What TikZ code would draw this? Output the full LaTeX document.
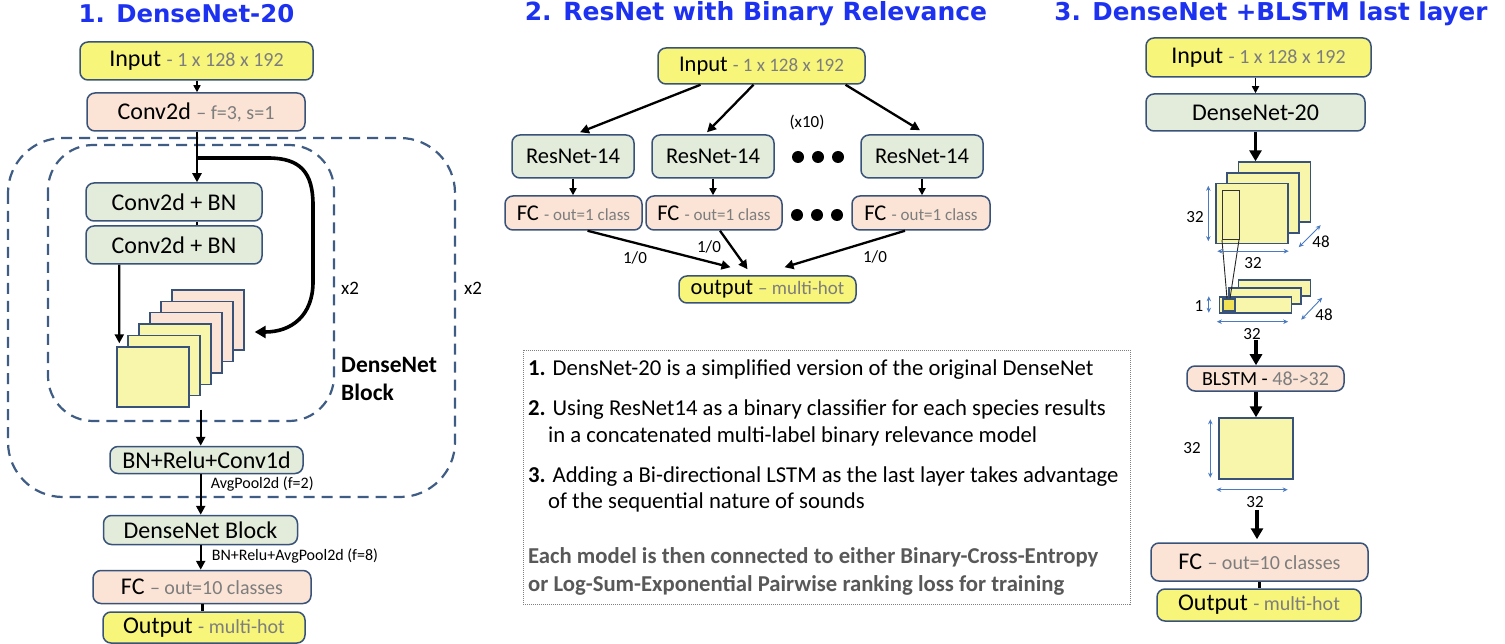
\documentclass[tikz,border=0pt]{standalone}
\usepackage{fontspec}
\setmainfont{Carlito}
\newfontfamily\headfont{DejaVu Sans}
\usetikzlibrary{arrows.meta,calc}

\definecolor{edge}{RGB}{56,82,122}
\definecolor{boxyellow}{RGB}{247,245,122}
\definecolor{sheetyellow}{RGB}{248,246,170}
\definecolor{cellyellow}{RGB}{240,226,84}
\definecolor{boxpeach}{RGB}{251,228,214}
\definecolor{boxgreen}{RGB}{227,235,218}
\definecolor{headblue}{RGB}{28,50,240}
\definecolor{subgray}{RGB}{125,125,125}
\definecolor{notegray}{RGB}{88,88,88}
\definecolor{dimblue}{RGB}{74,122,192}
\definecolor{dashblue}{RGB}{62,92,132}

% grey annotation inside a box: size, text
\newcommand{\gtx}[2]{{\color{subgray}\fontsize{#1}{#1}\selectfont #2}}
\newcommand{\pts}[1]{\fontsize{#1}{#1}\selectfont}

\tikzset{
  blk/.style={draw=edge, line width=1.5pt, rounded corners=8pt, inner sep=0pt, text=black},
  ylw/.style={blk, fill=boxyellow},
  pch/.style={blk, fill=boxpeach},
  grn/.style={blk, fill=boxgreen},
  sheet/.style={draw=edge, line width=1.4pt, inner sep=0pt, minimum width=72, minimum height=60},
  thinsheet/.style={draw=edge, line width=1.4pt, inner sep=0pt, minimum width=72, minimum height=16, fill=sheetyellow},
  arr/.style={draw=black, line width=2.3pt, -{Triangle[length=9pt,width=9pt]}},
  smallarr/.style={draw=black, line width=1.6pt, -{Triangle[length=7pt,width=7pt]}},
  bigarr/.style={draw=black, line width=3.2pt, -{Triangle[length=11pt,width=12pt]}},
  link/.style={draw=black, line width=3pt},
  dimarr/.style={draw=dimblue, line width=0.9pt, {Stealth[length=5pt,width=4.5pt]}-{Stealth[length=5pt,width=4.5pt]}},
  dashbox/.style={draw=dashblue, line width=2.2pt, dash pattern=on 11pt off 7pt},
  headline/.style={font=\headfont\bfseries\pts{24.4}, text=headblue, inner sep=0pt},
  lab/.style={inner sep=0pt, font=\pts{16}},
  dimlab/.style={inner sep=0pt, font=\pts{17}},
  note/.style={anchor=base west, inner sep=0pt, font=\pts{22.7}},
  dot/.style={circle, fill=black, inner sep=0pt, minimum size=12},
}

\begin{document}
\begin{tikzpicture}[x=1pt, y=-1pt]
\useasboundingbox (0,0) rectangle (1505,644);
\fill[white] (0,0) rectangle (1505,644);

% ---------------- titles ----------------
\node[headline] (t1) at (186.5,14) {1. DenseNet-20};
\node[headline, font=\headfont\bfseries\pts{25}] (t2) at (756,14) {2. ResNet with Binary Relevance};
\node[headline, font=\headfont\bfseries\pts{24.6}] (t3) at (1271,14) {3. DenseNet +BLSTM last layer};

% ================= 1. DenseNet-20 =================
\draw[dashbox, rounded corners=55pt] (8,138) rectangle (455,497);
\draw[dashbox, rounded corners=45pt] (48,145) rectangle (334,421);

\node[ylw, minimum width=233, minimum height=38, font=\pts{24}] (in1) at (196.5,61)
  {Input \gtx{20}{- 1 x 128 x 192}};
\node[pch, minimum width=218, minimum height=38, font=\pts{24}] (cv1) at (196,112)
  {Conv2d \gtx{20}{– f=3, s=1}};
\node[grn, minimum width=176, minimum height=38, font=\pts{24}] (cb1) at (174,202) {Conv2d + BN};
\node[grn, minimum width=176, minimum height=38, font=\pts{24}] (cb2) at (174,245) {Conv2d + BN};

% concatenated feature maps
\foreach \k/\c in {6/boxpeach,5/boxpeach,4/boxpeach,3/sheetyellow,2/sheetyellow,1/sheetyellow}
  \node[sheet, fill=\c] (sq\k) at ({153+11*(\k-1)},{377-11.4*(\k-1)}) {};

\node[grn, minimum width=193, minimum height=27, font=\pts{24}] (bnr) at (206.5,460) {BN+Relu+Conv1d};
\node[grn, minimum width=194, minimum height=29, font=\pts{24}] (dnb) at (200.5,530) {DenseNet Block};
\node[pch, minimum width=218, minimum height=33, font=\pts{24}] (fc1) at (202,587)
  {FC \gtx{20}{– out=10 classes}};
\node[ylw, minimum width=202, minimum height=31, font=\pts{24}] (out1) at (204,627.5)
  {Output \gtx{20}{- multi-hot}};

\node[inner sep=0pt, font=\pts{19}] (rep1) at (350,288) {x2};
\node[inner sep=0pt, font=\pts{19}] (rep2) at (473,288) {x2};
\node[anchor=west, align=left, inner sep=0pt, font=\bfseries\pts{23.5}] (blocklab) at (341,379)
  {DenseNet\\[4pt]Block};

\coordinate (br) at (197,158);
\draw[arr] (cv1.south -| br) -- (cb1.north -| br);
\draw[link, line width=2pt] (cb1.south -| br) -- (cb2.north -| br);
\draw[bigarr, line width=3.6pt] (br) -- (268,158) .. controls (300,158) and (313,172) .. (313,205)
  -- (313,282) .. controls (313,315) and (292,332) .. ($(sq6.east)+(10,12)$);
\draw[arr] ($(cb2.south west)+(34,0)$) -- ($(sq1.north west)+(3,-3)$);
\draw[arr] ($(sq1.south east)+(11,2)$) coordinate (s1) -- (s1 |- bnr.north);
\draw[arr] (bnr.south -| s1) -- (dnb.north -| s1)
  node[lab, anchor=west, pos=0.23, xshift=9pt] (pool1) {AvgPool2d (f=2)};
\draw[arr] (dnb.south -| s1) -- (fc1.north -| s1)
  node[lab, anchor=west, pos=0.45, xshift=10pt] (pool2) {BN+Relu+AvgPool2d (f=8)};
\draw[smallarr] ($(in1.south)+(0.5,0)$) -- ($(cv1.north)+(1,0)$);
\draw[link] (fc1.south) -- (fc1.south |- out1.north);

% ================= 2. ResNet with Binary Relevance =================
\node[ylw, minimum width=207, minimum height=36, font=\pts{22.5}] (in2) at (761.5,66)
  {Input \gtx{19}{- 1 x 128 x 192}};
\foreach \n/\x in {rn1/573,rn2/713,rn3/922}
  \node[grn, minimum width=122, minimum height=43, font=\pts{22.5}] (\n) at (\x,156.5) {ResNet-14};
\foreach \n/\x/\w in {fca/573.5/137,fcb/714/136,fcc/921/138}
  \node[pch, minimum width=\w, minimum height=34, font=\pts{22.5}] (\n) at (\x,213)
    {FC \gtx{17}{- out=1 class}};
\node[ylw, minimum width=177, minimum height=27, font=\pts{22.5}] (out2) at (767.5,289.5)
  {output \gtx{19}{– multi-hot}};

\node[dot] (da1) at (798,157) {};
\node[dot] (da2) at (818,157) {};
\node[dot] (da3) at (838,157) {};
\node[dot] (db1) at (797,215) {};
\node[dot] (db2) at (817,215) {};
\node[dot] (db3) at (837,215) {};
\node[inner sep=0pt, font=\pts{17}] (times) at (807,122) {(x10)};

\draw[arr] ($(in2.south)+(-61,0)$) -- ($(rn1.north)+(7,-2)$);
\draw[arr] ($(in2.south)+(-8,0)$) -- ($(rn2.north)+(-6,-2)$);
\draw[arr] ($(in2.south)+(84,0)$) -- ($(rn3.north)+(-2,-4)$);
\draw[smallarr] (rn1.south) -- (rn1.south |- fca.north);
\draw[smallarr] (rn2.south) -- (rn2.south |- fcb.north);
\draw[smallarr] (rn3.south) -- (rn3.south |- fcc.north);
\draw[arr] ($(fca.south)+(14,0)$) -- ($(out2.north)+(-37,-8)$);
\draw[arr] ($(fcb.south)+(6,0)$) -- ($(out2.north)+(-20,-6)$);
\draw[arr] ($(fcc.south)+(-16,0)$) -- ($(out2.north)+(17,-8)$);
\node[inner sep=0pt, font=\pts{17}] (r1) at (635,258) {1/0};
\node[inner sep=0pt, font=\pts{17}] (r2) at (709,247) {1/0};
\node[inner sep=0pt, font=\pts{17}] (r3) at (875,257) {1/0};

% notes
\node[draw=gray, line width=0.7pt, dash pattern=on 1pt off 1pt, minimum width=607, minimum height=254,
  inner sep=0pt] (notes) at (826.5,477) {};
\node[note] (n1) at (528,375) {\textbf{1.} DensNet-20 is a simplified version of the original DenseNet};
\node[note] (n2) at (528,415) {\textbf{2.} Using ResNet14 as a binary classifier for each species results};
\node[note] (n2b) at (548,442) {in a concatenated multi-label binary relevance model};
\node[note] (n3) at (528,482) {\textbf{3.} Adding a Bi-directional LSTM as the last layer takes advantage};
\node[note] (n3b) at (548,508) {of the sequential nature of sounds};
\node[note, text=notegray, font=\bfseries\pts{22.7}] (n4) at (528,563)
  {Each model is then connected to either Binary-Cross-Entropy};
\node[note, text=notegray, font=\bfseries\pts{22.7}] (n5) at (528,591)
  {or Log-Sum-Exponential Pairwise ranking loss for training};

% ================= 3. DenseNet + BLSTM =================
\node[ylw, minimum width=225, minimum height=39, font=\pts{24}] (in3) at (1258.5,57.5)
  {Input \gtx{20}{- 1 x 128 x 192}};
\node[grn, minimum width=219, minimum height=37, font=\pts{24}] (dn3) at (1255.5,112.5) {DenseNet-20};

% 32 x 32 x 48 feature maps
\node[sheet, fill=sheetyellow] (fb) at (1274.5,192) {};
\node[sheet, fill=sheetyellow] (fm) at (1263,203) {};
\node[sheet, fill=sheetyellow] (ff) at (1252,213.5) {};
\draw[black!80, line width=1pt] (1222,191) rectangle (1239,240);
\coordinate (win sw) at (1222,240);
\coordinate (win se) at (1239,240);

% 1 x 32 x 48 sequence
\node[thinsheet] (tb) at (1274.5,288) {};
\node[thinsheet] (tm) at (1265,296) {};
\node[thinsheet] (tf) at (1255.5,305) {};
\node[draw=edge, line width=1.2pt, fill=cellyellow, minimum size=12, inner sep=0pt] (cell) at (1229,305) {};
\draw[black!85, line width=0.9pt] (win sw) -- ($(cell.north)+(-2,0)$);
\draw[black!85, line width=0.9pt] (win se) -- ($(cell.north)+(1,0)$);

% dimensions
\draw[dimarr] ($(ff.north west)+(-7,3)$) -- ($(ff.south west)+(-7,-3)$);
\node[dimlab] (d1) at (1195,217) {32};
\draw[dimarr] ($(ff.south west)+(2,7)$) -- ($(ff.south east)+(0,7)$);
\node[dimlab] (d2) at (1253,263) {32};
\draw[dimarr] ($(ff.south east)+(10,3)$) -- ($(ff.south east)+(32,-19)$);
\node[dimlab] (d3) at (1321,242) {48};
\draw[dimarr] ($(tf.north west)+(-10,0)$) -- ($(tf.south west)+(-10,-1)$);
\node[dimlab] (d4) at (1199,306) {1};
\draw[dimarr] ($(tf.south west)+(-2,8)$) -- ($(tf.south east)+(-4,8)$);
\node[dimlab] (d5) at (1252,334) {32};
\draw[dimarr] ($(tf.south east)+(9,6)$) -- ($(tf.south east)+(30,-16)$);
\node[dimlab] (d6) at (1324,315) {48};

\node[pch, minimum width=157, minimum height=25, font=\pts{20}] (blstm) at (1265.5,378.5)
  {BLSTM - \gtx{20}{48->32}};
\node[sheet, fill=sheetyellow, minimum width=74, minimum height=61] (outmap) at (1256,448.5) {};
\draw[dimarr] ($(outmap.north west)+(-8,2)$) -- ($(outmap.south west)+(-8,-2)$);
\node[dimlab] (d7) at (1192,448) {32};
\draw[dimarr] ($(outmap.south west)+(-2,10)$) -- ($(outmap.south east)+(-6,10)$);
\node[dimlab] (d8) at (1255,502) {32};

\node[pch, minimum width=217, minimum height=38, font=\pts{24}] (fc3) at (1259.5,562)
  {FC \gtx{20}{– out=10 classes}};
\node[ylw, minimum width=204, minimum height=32, font=\pts{24}] (out3) at (1259,605)
  {Output \gtx{20}{- multi-hot}};

\draw[smallarr] (in3.south -| dn3.north) -- (dn3.north);
\draw[bigarr] (dn3.south) -- (dn3.south |- fb.north);
\draw[bigarr] ($(d5.south)+(4,0)$) -- ($(d5.south |- blstm.north)+(4,0)$);
\draw[bigarr] (blstm.south -| outmap.north) -- (outmap.north);
\draw[bigarr] ($(d8.south)+(2,2)$) -- ($(d8.south |- fc3.north)+(2,-3)$);
\draw[link] (fc3.south) -- (fc3.south |- out3.north);
\end{tikzpicture}
\end{document}
